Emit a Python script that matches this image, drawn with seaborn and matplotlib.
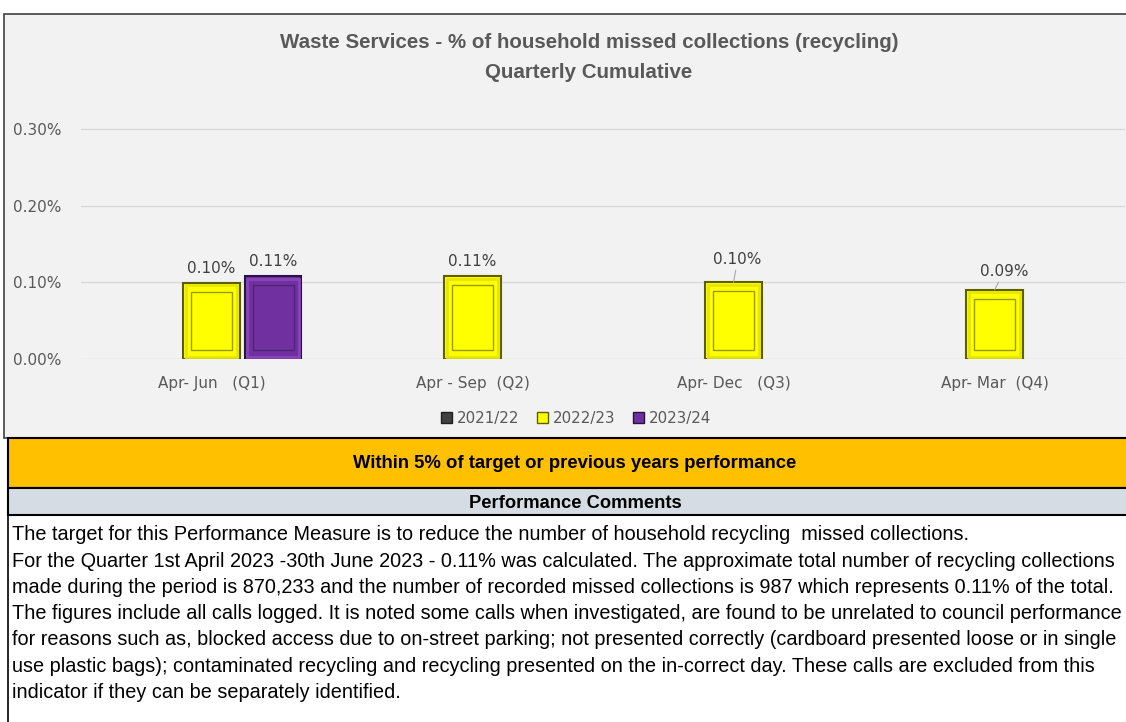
import numpy as np
import pandas as pd
import matplotlib
matplotlib.use("Agg")
import matplotlib.pyplot as plt
import seaborn as sns
from matplotlib.patches import Rectangle, Patch

# data
quarters = ["Apr- Jun   (Q1)", "Apr - Sep  (Q2)", "Apr- Dec   (Q3)", "Apr- Mar  (Q4)"]
years = ["2021/22", "2022/23", "2023/24"]
vals_2021 = [np.nan, np.nan, np.nan, np.nan]
vals_2022 = [0.099, 0.108, 0.100, 0.090]
vals_2023 = [0.108, np.nan, np.nan, np.nan]
y_ticks = [0.0, 0.10, 0.20, 0.30]

comments = [
    "The target for this Performance Measure is to reduce the number of household recycling  missed collections.",
    "For the Quarter 1st April 2023 -30th June 2023 - 0.11% was calculated. The approximate total number of recycling collections",
    "made during the period is 870,233 and the number of recorded missed collections is 987 which represents 0.11% of the total.",
    "The figures include all calls logged. It is noted some calls when investigated, are found to be unrelated to council performance",
    "for reasons such as, blocked access due to on-street parking; not presented correctly (cardboard presented loose or in single",
    "use plastic bags); contaminated recycling and recycling presented on the in-correct day. These calls are excluded from this",
    "indicator if they can be separately identified.",
]

df = pd.DataFrame({
    "quarter": quarters * 3,
    "year": [y for y in years for _ in quarters],
    "value": vals_2021 + vals_2022 + vals_2023,
})

COLORS = {"2021/22": "#404040", "2022/23": "#FFFF00", "2023/24": "#7030A0"}
EDGES = {"2021/22": "#202020", "2022/23": "#5E5E00", "2023/24": "#2A1240"}
RIM = {"2021/22": "#555555", "2022/23": "#E6E600", "2023/24": "#8A45BC"}
INNER = {"2021/22": "#303030", "2022/23": "#9A9A00", "2023/24": "#4E2275"}

sns.set_style("white")
plt.rcParams["font.family"] = ["DejaVu Sans"]
NARROW = ["Liberation Sans", "DejaVu Sans"]

W, H = 1126, 722
fig = plt.figure(figsize=(W / 100, H / 100), dpi=100)

def fx(px):
    return px / W

def fy(py):
    return 1 - py / H

# chart box
fig.patches.append(Rectangle((fx(4), fy(438)), fx(1130) - fx(4), fy(14) - fy(438),
                             transform=fig.transFigure, facecolor="#F2F2F2",
                             edgecolor="#404040", linewidth=1.2, zorder=-5))
# status band
fig.patches.append(Rectangle((fx(8), fy(488)), 1, fy(438) - fy(488),
                             transform=fig.transFigure, facecolor="#FFC000",
                             edgecolor="black", linewidth=1.5, zorder=-5))
# comments header
fig.patches.append(Rectangle((fx(8), fy(515)), 1, fy(488) - fy(515),
                             transform=fig.transFigure, facecolor="#D6DCE4",
                             edgecolor="black", linewidth=1.5, zorder=-5))
fig.lines.append(plt.Line2D([fx(8), fx(8)], [fy(515), 0], transform=fig.transFigure,
                            color="black", linewidth=1.2, zorder=-5))

ax = fig.add_axes([fx(81), fy(359), fx(1125) - fx(81), fy(110) - fy(359)])
ax.set_facecolor("none")

sns.barplot(data=df, x="quarter", y="value", hue="year", hue_order=years,
            order=quarters, palette=COLORS, width=0.71, gap=0.09,
            edgecolor="#555500", linewidth=1.5, saturation=1, ax=ax,
            legend=False, err_kws={"linewidth": 0})

ax.set_ylim(0, 0.325)
ax.set_yticks(y_ticks)
ax.set_yticklabels([f"{t:.2f}%" for t in y_ticks], fontsize=11, color="#595959")
ax.tick_params(axis="x", labelsize=11, labelcolor="#595959", length=0, pad=12)
ax.tick_params(axis="y", length=0, pad=14)
ax.set_xlabel("")
ax.set_ylabel("")
ax.yaxis.grid(True, color="#D9D9D9", linewidth=1)
ax.set_axisbelow(True)
sns.despine(ax=ax, left=True, bottom=True)

# bevel look + value labels
label_offsets = {("2022/23", 2): (3, 11), ("2022/23", 3): (7, 8)}
for container, year in zip(ax.containers, years):
    for i, bar in enumerate(container):
        h = bar.get_height()
        if not np.isfinite(h) or h <= 0:
            continue
        bar.set_edgecolor(EDGES[year])
        bx, bw = bar.get_x(), bar.get_width()
        # light rim just inside the outer edge
        rx, ry = bw * 0.04, 0.003
        ax.add_patch(Rectangle((bx + rx, ry), bw - 2 * rx, h - 2 * ry,
                               facecolor="none", edgecolor=RIM[year],
                               linewidth=2.0, zorder=3))
        dx = bw * 0.14
        dy = 0.0115
        ax.add_patch(Rectangle((bx + dx, dy), bw - 2 * dx, h - 2 * dy,
                               facecolor="none", edgecolor=INNER[year],
                               linewidth=1.0, zorder=3))
        off = label_offsets.get((year, i), (0, 5))
        arrow = dict(arrowstyle="-", color="#A6A6A6", lw=0.8, shrinkA=0, shrinkB=0) \
            if (year, i) in label_offsets else None
        ax.annotate(f"{h:.2f}%", xy=(bx + bw / 2, h), xytext=off,
                    textcoords="offset points", ha="center", va="bottom",
                    fontsize=11, color="#404040", arrowprops=arrow)

# legend
handles = [Patch(facecolor=COLORS[y], edgecolor=EDGES[y], label=y) for y in years]
fig.legend(handles=handles, loc="center", bbox_to_anchor=(fx(576), fy(418)),
           ncol=3, frameon=False, fontsize=10.8, handlelength=0.75, handleheight=0.75,
           handletextpad=0.3, columnspacing=1.2, labelcolor="#595959")

# titles
fig.text(fx(589), fy(42), "Waste Services - % of household missed collections (recycling)",
         ha="center", va="center", fontsize=14.8, fontweight="bold", color="#595959",
         family=NARROW)
fig.text(fx(589), fy(72), "Quarterly Cumulative", ha="center", va="center",
         fontsize=14.8, fontweight="bold", color="#595959", family=NARROW)

fig.text(fx(575), fy(464), "Within 5% of target or previous years performance",
         ha="center", va="center", fontsize=13.3, fontweight="bold", color="black",
         family=NARROW)
fig.text(fx(575), fy(503), "Performance Comments", ha="center", va="center",
         fontsize=13.2, fontweight="bold", color="black", family=NARROW)

for k, line in enumerate(comments):
    fig.text(fx(12), fy(535 + k * 26.2), line, ha="left", va="center",
             fontsize=14.3, color="black", family=NARROW)

fig.savefig("out.png", dpi=100)
